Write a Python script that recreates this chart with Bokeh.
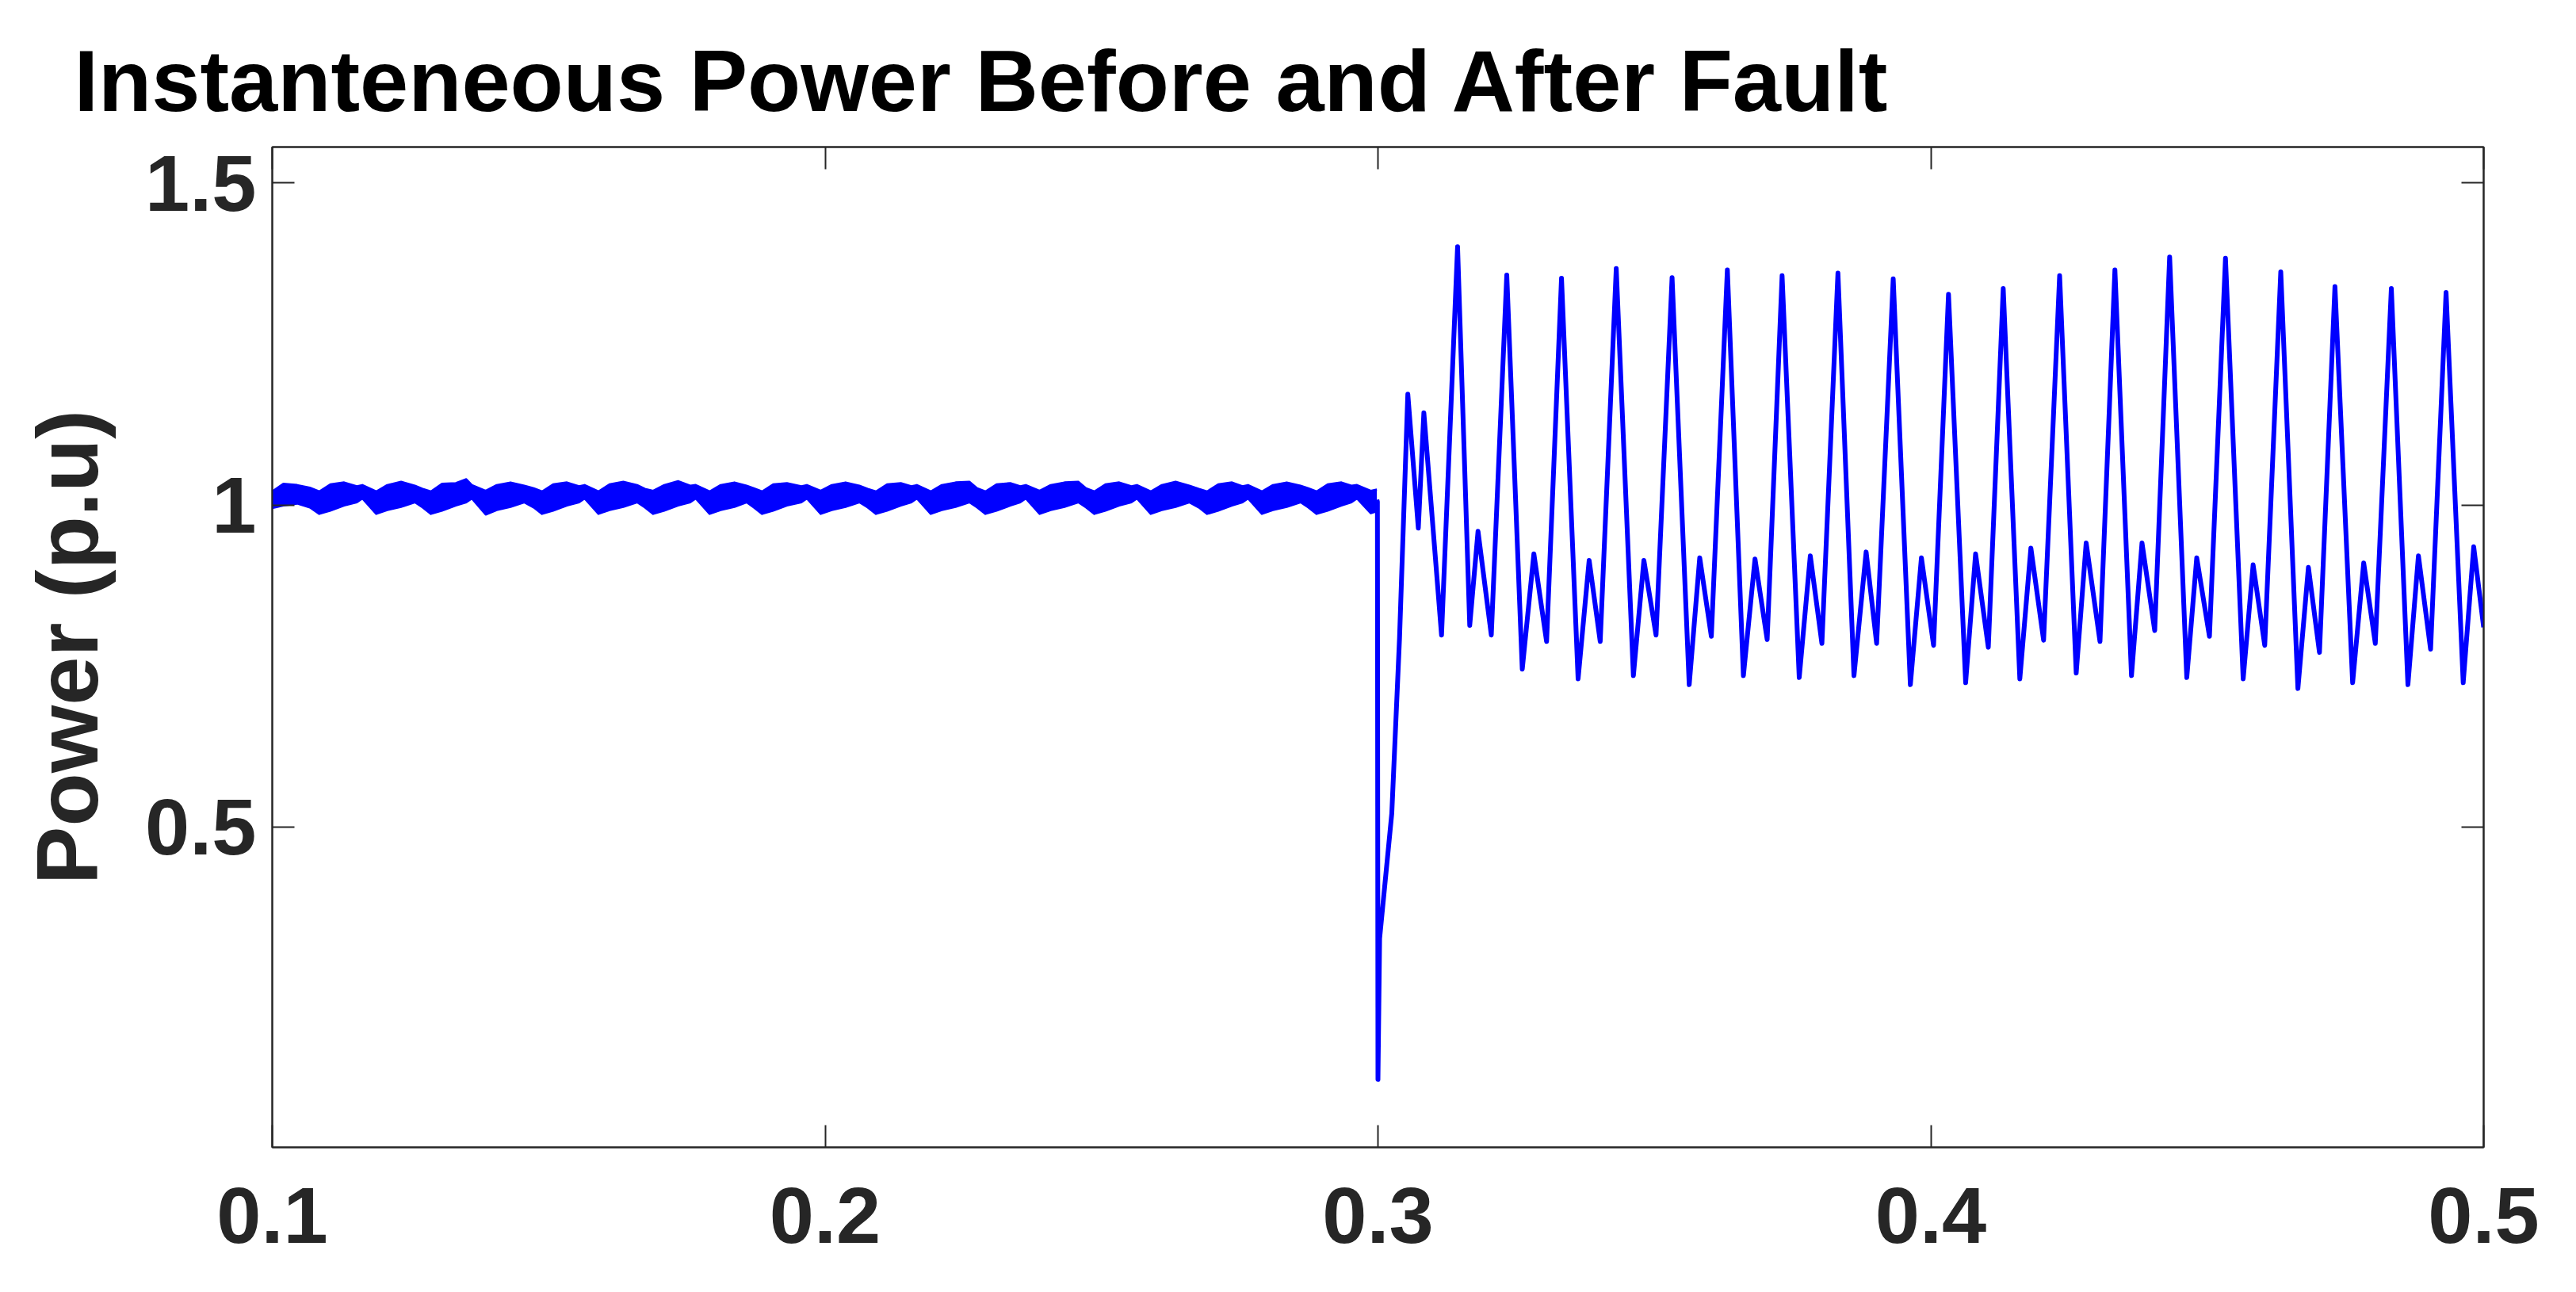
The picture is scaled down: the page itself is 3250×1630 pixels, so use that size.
from bokeh.plotting import figure
from bokeh.models import (Range1d, FixedTicker, LinearAxis, CustomJSTickFormatter)
from bokeh.embed import file_html
from bokeh.resources import INLINE

# ---------------- data ----------------
title_text = "Instanteneous Power Before and After Fault"
y_label = "Power (p.u)"
x_ticks = [0.1, 0.2, 0.3, 0.4, 0.5]
x_tick_labels = ["0.1", "0.2", "0.3", "0.4", "0.5"]
y_ticks = [0.5, 1.0, 1.5]
y_tick_labels = ["0.5", "1", "1.5"]

# pre-fault: noisy band around 1.0 p.u. (upper / lower envelope)
pre_t = [0.1000, 0.1020, 0.1045, 0.1068, 0.1085,
         0.1105, 0.1130, 0.1153, 0.1163, 0.1188,
         0.1208, 0.1233, 0.1258, 0.1272, 0.1287,
         0.1307, 0.1332, 0.1351, 0.1361, 0.1386,
         0.1406, 0.1431, 0.1456, 0.1473, 0.1488,
         0.1508, 0.1533, 0.1555, 0.1565, 0.1590,
         0.1610, 0.1635, 0.1660, 0.1674, 0.1689,
         0.1709, 0.1734, 0.1756, 0.1766, 0.1791,
         0.1811, 0.1836, 0.1858, 0.1871, 0.1886,
         0.1906, 0.1931, 0.1957, 0.1967, 0.1992,
         0.2012, 0.2037, 0.2062, 0.2077, 0.2092,
         0.2112, 0.2137, 0.2156, 0.2166, 0.2191,
         0.2211, 0.2236, 0.2261, 0.2275, 0.2290,
         0.2310, 0.2335, 0.2353, 0.2363, 0.2388,
         0.2408, 0.2433, 0.2458, 0.2472, 0.2487,
         0.2507, 0.2532, 0.2554, 0.2564, 0.2589,
         0.2609, 0.2634, 0.2659, 0.2676, 0.2691,
         0.2711, 0.2736, 0.2755, 0.2765, 0.2790,
         0.2810, 0.2835, 0.2860, 0.2874, 0.2889,
         0.2909, 0.2934, 0.2952, 0.2962, 0.2987,
         0.2998]
pre_hi = [1.021, 1.033, 1.031, 1.027, 1.021,
          1.032, 1.035, 1.029, 1.031, 1.021,
          1.031, 1.036, 1.030, 1.025, 1.021,
          1.033, 1.034, 1.040, 1.031, 1.022,
          1.031, 1.035, 1.030, 1.026, 1.021,
          1.032, 1.035, 1.029, 1.031, 1.021,
          1.032, 1.036, 1.031, 1.025, 1.022,
          1.031, 1.037, 1.030, 1.031, 1.021,
          1.031, 1.035, 1.030, 1.026, 1.021,
          1.032, 1.034, 1.029, 1.031, 1.022,
          1.031, 1.035, 1.030, 1.025, 1.021,
          1.032, 1.034, 1.029, 1.031, 1.021,
          1.031, 1.035, 1.036, 1.026, 1.021,
          1.032, 1.034, 1.029, 1.031, 1.022,
          1.031, 1.035, 1.036, 1.026, 1.021,
          1.032, 1.035, 1.029, 1.031, 1.021,
          1.031, 1.036, 1.030, 1.025, 1.021,
          1.032, 1.035, 1.029, 1.031, 1.021,
          1.031, 1.035, 1.030, 1.026, 1.021,
          1.032, 1.035, 1.030, 1.031, 1.022,
          1.024]
pre_lo = [0.995, 0.999, 1.002, 0.996, 0.986,
          0.991, 0.999, 1.004, 1.010, 0.986,
          0.992, 0.997, 1.004, 0.996, 0.986,
          0.991, 0.999, 1.004, 1.010, 0.985,
          0.992, 0.997, 1.004, 0.996, 0.986,
          0.991, 0.999, 1.004, 1.010, 0.986,
          0.992, 0.997, 1.004, 0.996, 0.986,
          0.991, 0.999, 1.004, 1.010, 0.986,
          0.992, 0.997, 1.004, 0.996, 0.986,
          0.991, 0.999, 1.004, 1.010, 0.986,
          0.992, 0.997, 1.004, 0.996, 0.986,
          0.991, 0.999, 1.004, 1.010, 0.986,
          0.992, 0.997, 1.004, 0.996, 0.986,
          0.991, 0.999, 1.004, 1.010, 0.986,
          0.992, 0.997, 1.004, 0.996, 0.986,
          0.991, 0.999, 1.004, 1.010, 0.986,
          0.992, 0.997, 1.004, 0.996, 0.986,
          0.991, 0.999, 1.004, 1.010, 0.986,
          0.992, 0.997, 1.004, 0.996, 0.986,
          0.991, 0.999, 1.004, 1.010, 0.987,
          0.990]

# fault at t = 0.3 s and the oscillation that follows
post_t = [0.2998, 0.2999, 0.3000, 0.3003, 0.3025, 0.3039, 0.3054, 0.3073, 0.3083,
          0.3115, 0.3144, 0.3166, 0.3181, 0.3205, 0.3233, 0.3261, 0.3282, 0.3305,
          0.3332, 0.3362, 0.3382, 0.3402, 0.3431, 0.3462, 0.3481, 0.3503,
          0.3532, 0.3563, 0.3582, 0.3603, 0.3632, 0.3661, 0.3682, 0.3704,
          0.3731, 0.3762, 0.3782, 0.3803, 0.3832, 0.3861, 0.3883, 0.3902,
          0.3932, 0.3963, 0.3983, 0.4005, 0.4032, 0.4063, 0.4081, 0.4104,
          0.4131, 0.4161, 0.4181, 0.4204, 0.4233, 0.4263, 0.4281, 0.4306,
          0.4333, 0.4363, 0.4382, 0.4405, 0.4432, 0.4463, 0.4481, 0.4504,
          0.4533, 0.4565, 0.4583, 0.4604, 0.4633, 0.4664, 0.4683, 0.4703,
          0.4731, 0.4763, 0.4783, 0.4804, 0.4833, 0.4863, 0.4882, 0.4904,
          0.4932, 0.4963, 0.4982, 0.5000]
post_p = [1.008, 1.005, 0.108, 0.327, 0.521, 0.793, 1.172, 0.964, 1.143,
          0.798, 1.401, 0.813, 0.959, 0.798, 1.357, 0.745, 0.924, 0.788,
          1.352, 0.730, 0.914, 0.788, 1.367, 0.735, 0.914, 0.798,
          1.353, 0.721, 0.918, 0.796, 1.365, 0.735, 0.916, 0.791,
          1.356, 0.732, 0.921, 0.785, 1.360, 0.735, 0.927, 0.785,
          1.351, 0.721, 0.918, 0.782, 1.327, 0.724, 0.924, 0.779,
          1.336, 0.730, 0.933, 0.790, 1.356, 0.739, 0.941, 0.788,
          1.365, 0.735, 0.941, 0.805, 1.385, 0.732, 0.918, 0.796,
          1.383, 0.730, 0.907, 0.782, 1.362, 0.715, 0.903, 0.771,
          1.339, 0.724, 0.910, 0.785, 1.336, 0.721, 0.921, 0.776,
          1.330, 0.724, 0.935, 0.810]

# ---------------- figure ----------------
AX = "#262626"
BLUE = "#0000FF"
FONT = "Liberation Sans"
# note: sizes such as "100px" break the SVG font parser when combined with bold
TICK_SIZE = "101px"
LABEL_SIZE = "110px"

p = figure(width=3234, height=1614,
           x_range=Range1d(0.1, 0.5), y_range=Range1d(0.0026, 1.5557),
           output_backend="svg", toolbar_location=None,
           min_border_left=343, min_border_right=101,
           min_border_top=185, min_border_bottom=167)

p.xgrid.visible = False
p.ygrid.visible = False
p.outline_line_color = AX
p.outline_line_width = 2

p.varea(x=pre_t, y1=pre_lo, y2=pre_hi, fill_color=BLUE, fill_alpha=1.0)
p.line(pre_t, pre_hi, line_color=BLUE, line_width=2.5, line_join="round")
p.line(pre_t, pre_lo, line_color=BLUE, line_width=2.5, line_join="round")
p.line(post_t, post_p, line_color=BLUE, line_width=6, line_join="round")

FMT_CODE = """
for (let i = 0; i < tv.length; i++) {
    if (Math.abs(tv[i] - tick) < 1e-9) { return tl[i]; }
}
return String(tick);
"""

def style_axis(ax, ticks, labels, show_labels):
    ax.ticker = FixedTicker(ticks=ticks)
    ax.formatter = CustomJSTickFormatter(args=dict(tv=list(ticks), tl=list(labels)),
                                         code=FMT_CODE)
    ax.major_tick_in = 28
    ax.major_tick_out = 0
    ax.minor_tick_in = 0
    ax.minor_tick_out = 0
    ax.axis_line_color = AX
    ax.axis_line_width = 2
    ax.major_tick_line_color = AX
    ax.major_tick_line_width = 2
    ax.major_label_text_font = FONT
    ax.major_label_text_font_style = "bold"
    ax.major_label_text_color = AX
    if show_labels:
        ax.major_label_text_font_size = TICK_SIZE
    else:
        ax.major_label_text_font_size = "1px"
        ax.major_label_text_alpha = 0
        ax.major_label_standoff = 0

xa = p.xaxis[0]
ya = p.yaxis[0]
style_axis(xa, x_ticks, x_tick_labels, True)
style_axis(ya, y_ticks, y_tick_labels, True)
xa.major_label_standoff = 50
ya.major_label_standoff = 20

ya.axis_label = y_label
ya.axis_label_text_font = FONT
ya.axis_label_text_font_style = "bold"
ya.axis_label_text_font_size = LABEL_SIZE
ya.axis_label_text_color = AX
ya.axis_label_standoff = 34

ra = LinearAxis()
style_axis(ra, y_ticks, y_tick_labels, False)
p.add_layout(ra, "right")
ta = LinearAxis()
style_axis(ta, x_ticks, x_tick_labels, False)
p.add_layout(ta, "above")

p.title.text = title_text
p.title.text_font = FONT
p.title.text_font_style = "bold"
p.title.text_font_size = LABEL_SIZE
p.title.text_color = "black"
p.title.align = "left"
p.title.offset = -250
p.title.standoff = 46

open("out.html", "w").write(file_html(p, INLINE))
